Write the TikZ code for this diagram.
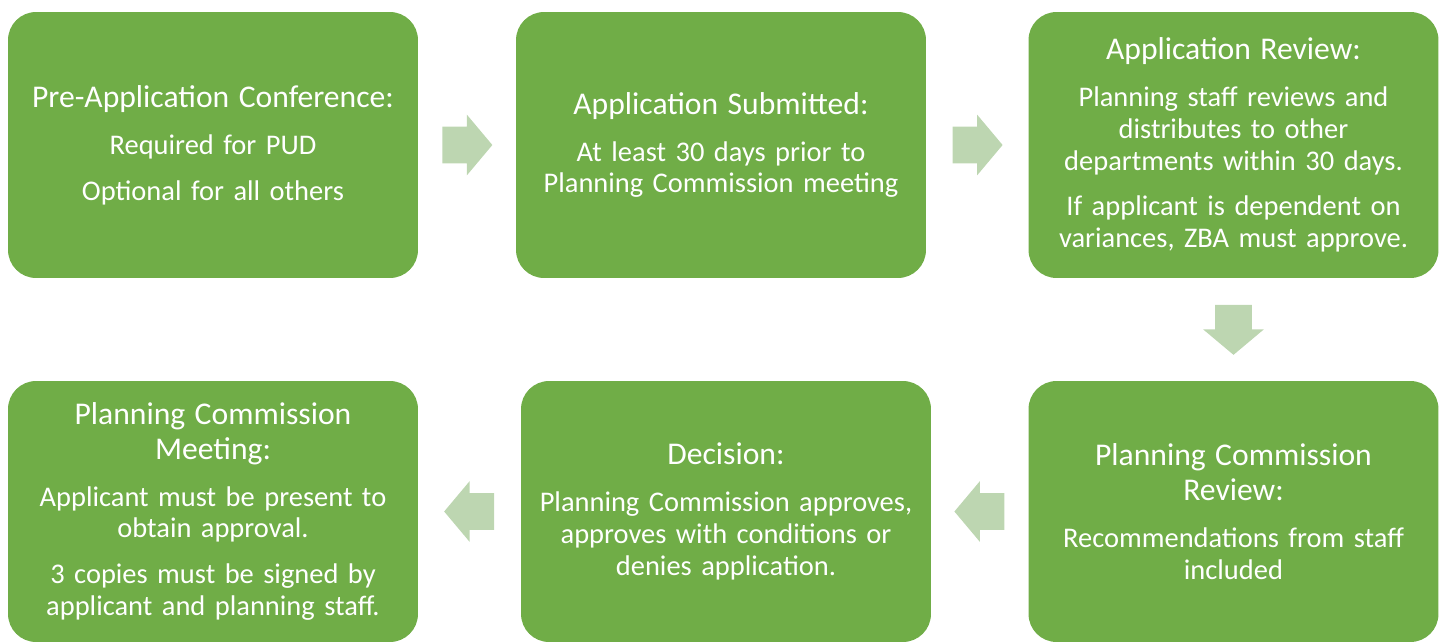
\documentclass[tikz,border=0pt]{standalone}
\usepackage{fontspec}
\setmainfont{Carlito}
\usepackage{xcolor}
\usetikzlibrary{shapes.arrows, calc, positioning}

\definecolor{stagegreen}{RGB}{112,173,71}
\definecolor{arrowgreen}{RGB}{189,214,177}

\newcommand{\stagehead}[1]{{\fontsize{18}{19.8}\selectfont #1\par}\vspace{8.6pt}}

\begin{document}
\begin{tikzpicture}[
    x=0.02cm, y=-0.02cm,
    stage/.style={rectangle, fill=stagegreen, text=white, rounded corners=0.56cm,
        minimum width=8.2cm, minimum height=5.32cm, text width=7.9cm, align=center,
        inner sep=0pt, font=\fontsize{16.2}{18.1}\selectfont},
    flowarrow/.style={single arrow, fill=arrowgreen, draw=none, inner xsep=0pt,
        inner ysep=0.36cm, minimum height=1cm, single arrow head extend=0.24cm,
        single arrow tip angle=100, anchor=tail}
]
\useasboundingbox (0,0) rectangle (1448,643);

% Stages
\node[stage] (preapp) at (213,145) {\stagehead{Pre-Application Conference:}
    Required for PUD\\[8pt] Optional for all others};
\node[stage] (submit) at (721,145) {\stagehead{Application Submitted:}
    At least 30 days prior to\\ Planning Commission meeting};
\node[stage] (review) at (1233.5,145) {\stagehead{Application Review:}
    Planning staff reviews and\\ distributes to other\\ departments within 30 days.\\[8pt]
    If applicant is dependent on\\ variances, ZBA must approve.};
\node[stage, minimum height=5.22cm] (pcreview) at (1233.5,511.5) {\stagehead{Planning Commission\\ Review:}
    Recommendations from staff\\ included};
\node[stage, minimum height=5.22cm] (decision) at (726,511.5) {\stagehead{Decision:}
    Planning Commission approves,\\ approves with conditions or\\ denies application.};
\node[stage, minimum height=5.22cm] (meeting) at (213,511.5) {\stagehead{Planning Commission\\ Meeting:}
    Applicant must be present to\\ obtain approval.\\[8pt]
    3 copies must be signed by\\ applicant and planning staff.};

% Arrows between stages
\node[flowarrow] (a1) at ($(preapp.east)!0.5!(submit.west)+(-25,0)$) {};
\node[flowarrow] (a2) at ($(submit.east)!0.5!(review.west)+(-25,0)$) {};
\node[flowarrow, rotate=-90] (a3) at ($(review.south)!0.5!(pcreview.north)+(0,-25)$) {};
\node[flowarrow, rotate=180] (a4) at ($(pcreview.west)!0.5!(decision.east)+(25,0)$) {};
\node[flowarrow, rotate=180] (a5) at ($(decision.west)!0.5!(meeting.east)+(25,0)$) {};

\end{tikzpicture}
\end{document}
